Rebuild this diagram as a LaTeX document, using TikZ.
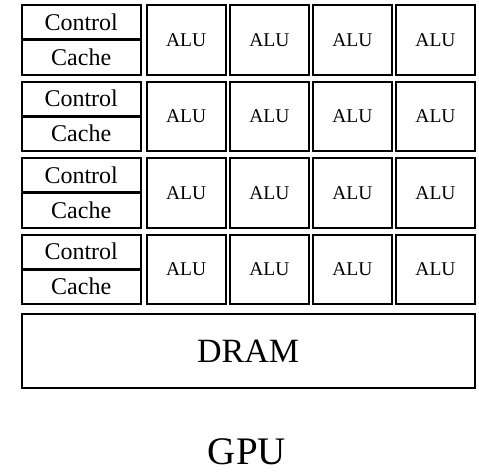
\documentclass[tikz,border=0pt]{standalone}
\usepackage{fontspec}
\setmainfont{Liberation Serif}
\begin{document}
\begin{tikzpicture}[x=1pt,y=-1pt,
  box/.style={draw=black, line width=2pt, inner sep=0pt, outer sep=0pt,
    text depth=0pt},
  cellbox/.style={box, minimum width=119pt, minimum height=34.25pt,
    text height=15.8pt, font=\fontsize{24}{28}\selectfont},
  alubox/.style={box, minimum width=79pt, minimum height=69.5pt,
    text height=12.9pt, font=\fontsize{19.5}{23}\selectfont},
  drambox/.style={box, minimum width=453.3pt, minimum height=74.6pt,
    text height=22.4pt, font=\fontsize{34}{40}\selectfont},
  title/.style={inner sep=0pt, text height=25.7pt, text depth=0pt,
    font=\fontsize{39}{46}\selectfont}]
\useasboundingbox[fill=white] (0,0) rectangle (479,474);
\foreach \r in {0,...,3}{
  \pgfmathsetmacro{\rowtop}{4+76.5*\r}
  \node[cellbox] (ctrl\r) at (81.2,\rowtop+18.125) {Control};
  \node[cellbox] (cache\r) at (81.2,\rowtop+53.375) {Cache};
  \foreach \c/\x in {0/186.2,1/269.3,2/352.3,3/435.5}{
    \node[alubox] (alu\r\c) at (\x,\rowtop+35.75) {ALU};
  }
}
\node[drambox] (dram) at (248.2,351) {DRAM};
\node[title] (gpu) at (247,452) {GPU};
\end{tikzpicture}
\end{document}
